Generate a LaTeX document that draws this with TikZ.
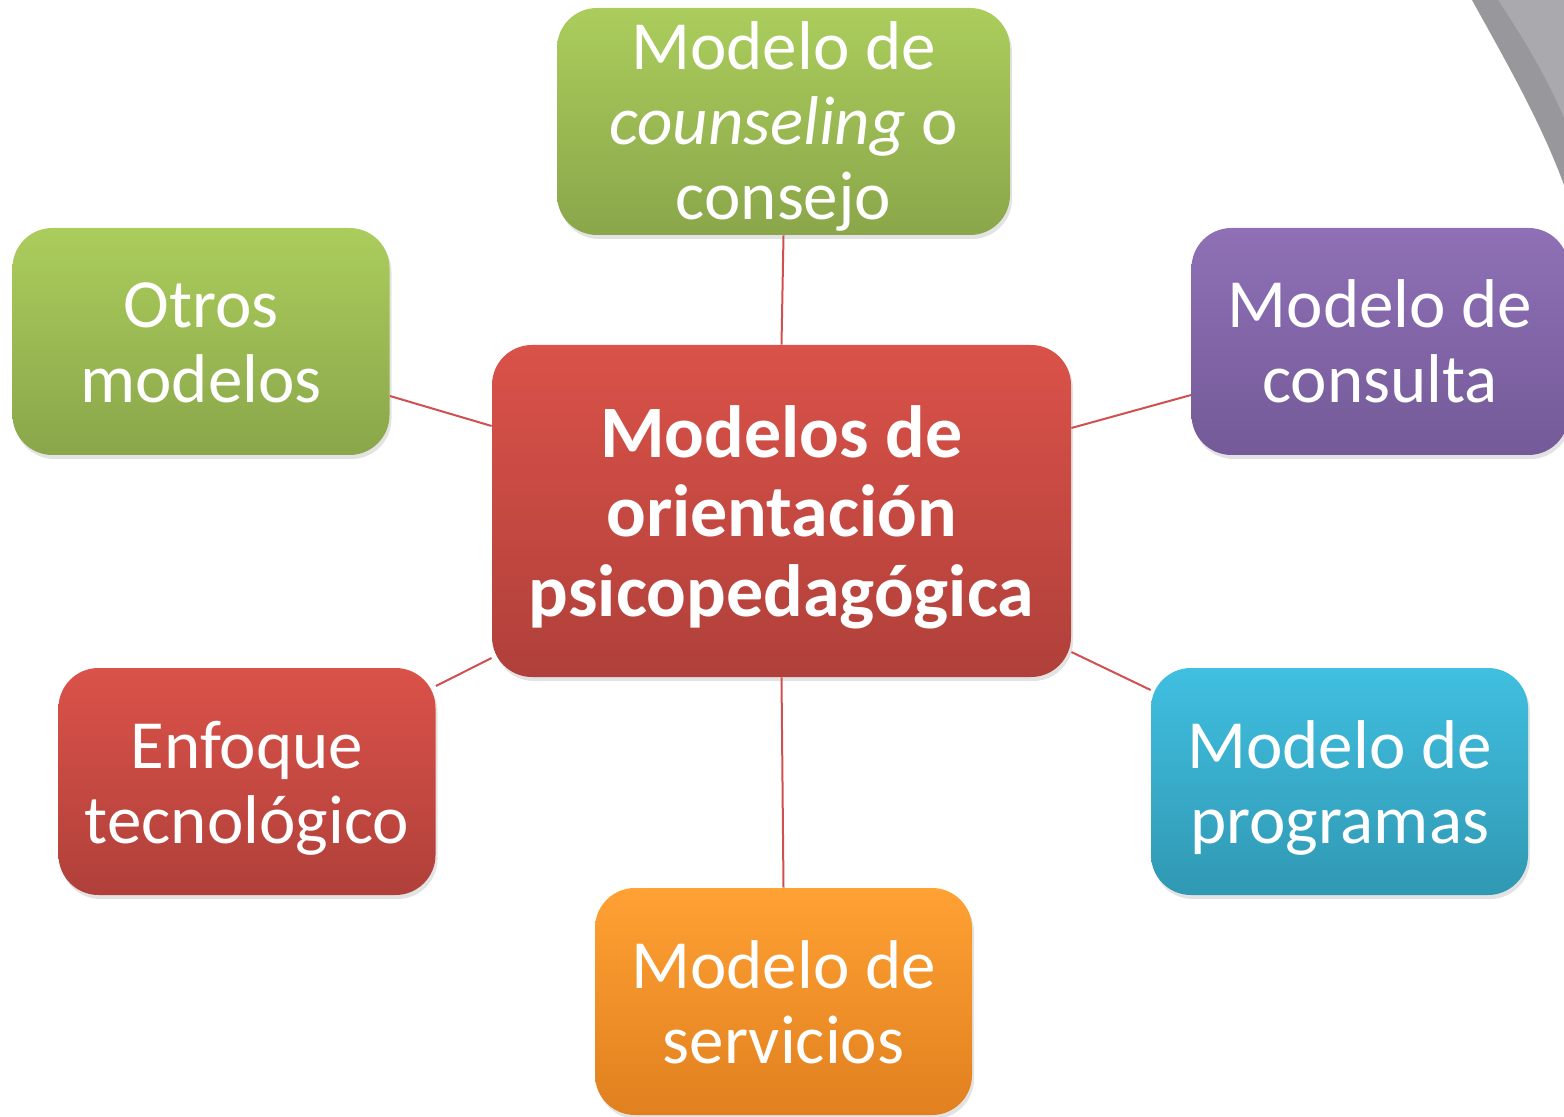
\documentclass[tikz,border=0pt]{standalone}
\usepackage{fontspec}
\setmainfont{Carlito}
\usetikzlibrary{shadows,calc}
\definecolor{gTop}{HTML}{ABCD5C}\definecolor{gBot}{HTML}{8AA64A}
\definecolor{pTop}{HTML}{8F70B6}\definecolor{pBot}{HTML}{745A98}
\definecolor{rTop}{HTML}{DA5249}\definecolor{rBot}{HTML}{B0403A}
\definecolor{cTop}{HTML}{40BFE0}\definecolor{cBot}{HTML}{3098B3}
\definecolor{oTop}{HTML}{FFA133}\definecolor{oBot}{HTML}{E0801F}
\definecolor{linkc}{HTML}{D0504F}
\definecolor{greyDark}{HTML}{98989C}\definecolor{greyLight}{HTML}{AAAAAE}
\newcommand\mytopstrut{\rule{0pt}{32.5pt}}
\newcommand\mybotstrut{\rule[-8.5pt]{0pt}{8.5pt}}
\newcommand\mytopstrutB{\rule{0pt}{35pt}}
\newcommand\mybotstrutB{\rule[-9pt]{0pt}{9pt}}
\newcommand\mytopstrutC{\rule{0pt}{30pt}}
\newcommand\mybotstrutC{\rule[-6.5pt]{0pt}{6.5pt}}
\tikzset{
  box/.style={rounded corners=20pt, minimum width=188.5pt, minimum height=113.5pt,
    inner sep=0pt, align=center, text=white,
    font=\fontsize{34.5}{37.5}\selectfont,
    drop shadow={shadow xshift=1pt, shadow yshift=-2pt, opacity=0.22}},
  green/.style={top color=gTop, bottom color=gBot},
  purple/.style={top color=pTop, bottom color=pBot},
  redbox/.style={top color=rTop, bottom color=rBot},
  cyan/.style={top color=cTop, bottom color=cBot},
  orange/.style={top color=oTop, bottom color=oBot},
  link/.style={draw=linkc, line width=1pt}
}
\begin{document}
\begin{tikzpicture}[x=0.5pt,y=-0.5pt]
\useasboundingbox (0,0) rectangle (1564,1117);
% decorative grey arc
\fill[greyDark] (1472,0) .. controls (1505,60) and (1540,120) .. (1564,185) -- (1564,0) -- cycle;
\fill[greyLight] (1498,0) .. controls (1525,40) and (1548,80) .. (1564,118) -- (1564,0) -- cycle;
% nodes
\node[box, redbox, minimum width=289.5pt, minimum height=166pt,
  font=\bfseries\fontsize{37}{40}\selectfont] (center) at (781.5,511)
  {\mytopstrutB Modelos de\\orientación\\psicopedagógica\mybotstrutB};
\node[box, green, minimum width=226.5pt] (top) at (783.5,121.5)
  {\mytopstrutC Modelo de\\\textit{counseling} o\\consejo\mybotstrutC};
\node[box, green] (otros) at (201,341.5) {\mytopstrut Otros\\modelos\mybotstrut};
\node[box, purple] (consulta) at (1380,341.5) {\mytopstrut Modelo de\\consulta\mybotstrut};
\node[box, redbox] (enfoque) at (247,781.5) {\mytopstrut Enfoque\\tecnológico\mybotstrut};
\node[box, cyan] (programas) at (1339.5,781.5) {\mytopstrut Modelo de\\programas\mybotstrut};
\node[box, orange] (servicios) at (783.5,1001.5) {\mytopstrut Modelo de\\servicios\mybotstrut};
% connectors
\draw[link] (top.south) -- (center.north);
\draw[link] (center.south) -- (servicios.north);
\draw[link] ([yshift=-27.25pt]otros.east) -- ([yshift=42.5pt]center.west);
\draw[link] ([yshift=41.5pt]center.east) -- ([yshift=-26.75pt]consulta.west);
\draw[link] ([yshift=47.75pt]enfoque.east) -- ([yshift=-73.5pt]center.west);
\draw[link] ([yshift=-70.5pt]center.east) -- ([yshift=45.75pt]programas.west);
\end{tikzpicture}
\end{document}
